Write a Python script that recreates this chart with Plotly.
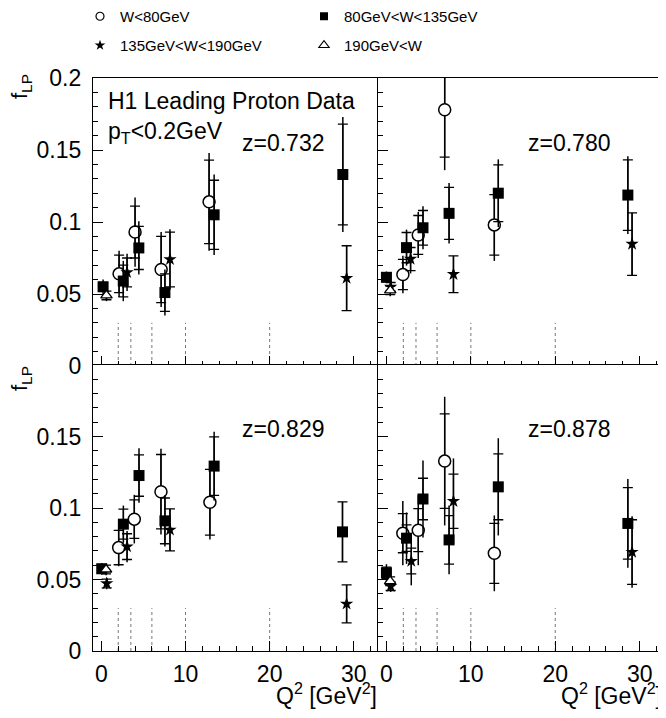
import plotly.graph_objects as go

# ---------------- data ----------------
z_labels = ["z=0.732", "z=0.780", "z=0.829", "z=0.878"]
series_names = ["W<80GeV", "80GeV<W<135GeV", "135GeV<W<190GeV", "190GeV<W"]
bin_edges = [2, 3.5, 6, 10, 20]
edge_height = 0.03

# z = 0.732
q2_w1_z1 = [2.1, 4.0, 7.1, 12.8]
f_w1_z1 = [0.064, 0.093, 0.067, 0.114]
st_w1_z1 = [0.013, 0.018, 0.023, 0.029]
to_w1_z1 = [0.016, 0.024, 0.026, 0.034]
q2_w2_z1 = [0.2, 2.6, 4.45, 7.55, 13.4, 28.7]
f_w2_z1 = [0.055, 0.059, 0.082, 0.051, 0.105, 0.133]
st_w2_z1 = [0.003, 0.011, 0.015, 0.013, 0.024, 0.035]
to_w2_z1 = [0.005, 0.014, 0.0185, 0.016, 0.028, 0.040]
q2_w3_z1 = [3.05, 8.15, 29.15]
f_w3_z1 = [0.065, 0.074, 0.061]
st_w3_z1 = [0.010, 0.019, 0.0225]
to_w3_z1 = [0.013, 0.021, 0.0225]
q2_w4_z1 = [0.6]
f_w4_z1 = [0.049]
st_w4_z1 = [0.003]
to_w4_z1 = [0.004]

# z = 0.780
q2_w1_z2 = [1.95, 3.77, 6.9, 12.78]
f_w1_z2 = [0.0636, 0.091, 0.178, 0.098]
st_w1_z2 = [0.0105, 0.0135, 0.033, 0.021]
to_w1_z2 = [0.013, 0.016, 0.042, 0.025]
q2_w2_z2 = [0.0, 2.38, 4.33, 7.42, 13.25, 28.6]
f_w2_z2 = [0.0616, 0.0822, 0.096, 0.106, 0.12, 0.1187]
st_w2_z2 = [0.003, 0.0105, 0.012, 0.018, 0.0197, 0.0245]
to_w2_z2 = [0.004, 0.0125, 0.015, 0.021, 0.0235, 0.027]
q2_w3_z2 = [0.5, 2.86, 7.94, 29.1]
f_w3_z2 = [0.055, 0.0743, 0.0637, 0.0847]
st_w3_z2 = [0.003, 0.008, 0.0128, 0.0217]
to_w3_z2 = [0.004, 0.010, 0.0128, 0.0217]
q2_w4_z2 = [0.45]
f_w4_z2 = [0.0525]
st_w4_z2 = [0.003]
to_w4_z2 = [0.004]

# z = 0.829
q2_w1_z3 = [2.05, 3.91, 7.08, 12.9]
f_w1_z3 = [0.0723, 0.0922, 0.1114, 0.104]
st_w1_z3 = [0.012, 0.0135, 0.026, 0.023]
to_w1_z3 = [0.013, 0.017, 0.030, 0.026]
q2_w2_z3 = [0.04, 2.61, 4.47, 7.55, 13.4, 28.66]
f_w2_z3 = [0.0575, 0.0887, 0.1227, 0.091, 0.1293, 0.0833]
st_w2_z3 = [0.003, 0.0105, 0.0145, 0.016, 0.0205, 0.021]
to_w2_z3 = [0.004, 0.013, 0.019, 0.018, 0.024, 0.021]
q2_w3_z3 = [0.63, 3.05, 8.15, 29.15]
f_w3_z3 = [0.0472, 0.073, 0.0847, 0.0329]
st_w3_z3 = [0.003, 0.009, 0.0147, 0.0133]
to_w3_z3 = [0.004, 0.011, 0.0147, 0.0133]
q2_w4_z3 = [0.55]
f_w4_z3 = [0.057]
st_w4_z3 = [0.003]
to_w4_z3 = [0.004]

# z = 0.878
q2_w1_z4 = [1.94, 3.77, 6.9, 12.78]
f_w1_z4 = [0.0824, 0.0845, 0.1328, 0.0683]
st_w1_z4 = [0.0137, 0.015, 0.033, 0.021]
to_w1_z4 = [0.0225, 0.0245, 0.045, 0.0265]
q2_w2_z4 = [0.0, 2.38, 4.33, 7.42, 13.25, 28.6]
f_w2_z4 = [0.0547, 0.0789, 0.1063, 0.0777, 0.1148, 0.0892]
st_w2_z4 = [0.004, 0.0093, 0.0145, 0.017, 0.023, 0.025]
to_w2_z4 = [0.006, 0.018, 0.027, 0.024, 0.034, 0.031]
q2_w3_z4 = [0.5, 2.94, 7.94, 29.1]
f_w3_z4 = [0.0453, 0.0629, 0.1047, 0.0692]
st_w3_z4 = [0.003, 0.009, 0.019, 0.0226]
to_w3_z4 = [0.004, 0.017, 0.030, 0.025]
q2_w4_z4 = [0.44]
f_w4_z4 = [0.0488]
st_w4_z4 = [0.003]
to_w4_z4 = [0.004]

panels = [
    [(q2_w1_z1, f_w1_z1, st_w1_z1, to_w1_z1), (q2_w2_z1, f_w2_z1, st_w2_z1, to_w2_z1),
     (q2_w3_z1, f_w3_z1, st_w3_z1, to_w3_z1), (q2_w4_z1, f_w4_z1, st_w4_z1, to_w4_z1)],
    [(q2_w1_z2, f_w1_z2, st_w1_z2, to_w1_z2), (q2_w2_z2, f_w2_z2, st_w2_z2, to_w2_z2),
     (q2_w3_z2, f_w3_z2, st_w3_z2, to_w3_z2), (q2_w4_z2, f_w4_z2, st_w4_z2, to_w4_z2)],
    [(q2_w1_z3, f_w1_z3, st_w1_z3, to_w1_z3), (q2_w2_z3, f_w2_z3, st_w2_z3, to_w2_z3),
     (q2_w3_z3, f_w3_z3, st_w3_z3, to_w3_z3), (q2_w4_z3, f_w4_z3, st_w4_z3, to_w4_z3)],
    [(q2_w1_z4, f_w1_z4, st_w1_z4, to_w1_z4), (q2_w2_z4, f_w2_z4, st_w2_z4, to_w2_z4),
     (q2_w3_z4, f_w3_z4, st_w3_z4, to_w3_z4), (q2_w4_z4, f_w4_z4, st_w4_z4, to_w4_z4)],
]

# ---------------- styling ----------------
FONT = "Liberation Sans, Arial, sans-serif"
OFF = 8                  # page body margin of the html page
W, H = 666 - OFF, 718 - 2 * OFF


def px(x):   # page x pixel -> paper fraction
    return (x - OFF) / W


def py(y):   # page y pixel -> paper fraction
    return 1 - (y - OFF) / H


marker_styles = [
    dict(symbol="circle", size=12, color="white", line=dict(color="black", width=1.5)),
    dict(symbol="square", size=11, color="black", line=dict(color="black", width=0)),
    dict(symbol="star", size=10, color="black", line=dict(color="black", width=0)),
    dict(symbol="triangle-up", size=10, color="white", line=dict(color="black", width=1.3)),
]
legend_marker_styles = [
    dict(symbol="circle", size=8, color="white", line=dict(color="black", width=1.2)),
    dict(symbol="square", size=8, color="black", line=dict(color="black", width=0)),
    dict(symbol="star", size=8, color="black", line=dict(color="black", width=0)),
    dict(symbol="triangle-up", size=9, color="white", line=dict(color="black", width=1.1)),
]

xdom = [[px(93), px(379)], [px(378), px(665)], [px(93), px(379)], [px(378), px(665)]]
ydom = [[py(366), py(78)], [py(366), py(78)], [py(651), py(365)], [py(651), py(365)]]

fig = go.Figure()

for p in range(4):
    xa = "x" if p == 0 else f"x{p + 1}"
    ya = "y" if p == 0 else f"y{p + 1}"
    ex, ey = [], []
    for e in bin_edges:
        ex += [e, e, None]
        ey += [0, edge_height, None]
    fig.add_trace(go.Scatter(x=ex, y=ey, mode="lines", xaxis=xa, yaxis=ya,
                             line=dict(color="#777777", width=1, dash="dot"),
                             showlegend=False, hoverinfo="skip"))
    for s, (q2, f, st, to) in enumerate(panels[p]):
        fig.add_trace(go.Scatter(x=q2, y=f, mode="markers", xaxis=xa, yaxis=ya,
                                 marker=dict(size=1, color="rgba(0,0,0,0)"),
                                 error_y=dict(type="data", array=to, visible=True,
                                              color="black", thickness=1.5, width=0),
                                 showlegend=False, hoverinfo="skip"))
        fig.add_trace(go.Scatter(x=q2, y=f, mode="markers", xaxis=xa, yaxis=ya,
                                 marker=marker_styles[s],
                                 error_y=dict(type="data", array=st, visible=True,
                                              color="black", thickness=1.3, width=5),
                                 showlegend=False, name=series_names[s]))

for s in range(4):
    fig.add_trace(go.Scatter(x=[None], y=[None], mode="markers", name=series_names[s],
                             marker=legend_marker_styles[s], showlegend=True,
                             legend="legend" if s in (0, 1) else "legend2"))

axis_common = dict(showline=True, linecolor="black", linewidth=1.2, mirror=True,
                   ticks="inside", tickcolor="black", tickwidth=1.2,
                   showgrid=False, zeroline=False, automargin=False,
                   tickfont=dict(family=FONT, size=23, color="black"))

layout = dict(template="none", width=W, height=H,
              margin=dict(l=0, r=0, t=0, b=0, autoexpand=False),
              paper_bgcolor="white", plot_bgcolor="white",
              font=dict(family=FONT, color="black"))

for p in range(4):
    xn = "xaxis" if p == 0 else f"xaxis{p + 1}"
    yn = "yaxis" if p == 0 else f"yaxis{p + 1}"
    ya = "y" if p == 0 else f"y{p + 1}"
    xa = "x" if p == 0 else f"x{p + 1}"
    layout[xn] = dict(axis_common, domain=xdom[p], range=[-1, 33], anchor=ya,
                      tickmode="linear", tick0=0, dtick=10, ticklen=10,
                      minor=dict(tick0=0, dtick=2, ticklen=5, ticks="inside",
                                 tickcolor="black", tickwidth=1.2, showgrid=False),
                      showticklabels=(p >= 2), ticklabelstandoff=2)
    if p == 0:
        ytick = dict(tickmode="array", tickvals=[0, 0.05, 0.1, 0.15, 0.2],
                     ticktext=["0", "0.05", "0.1", "0.15", "0.2"])
    elif p == 2:
        ytick = dict(tickmode="array", tickvals=[0, 0.05, 0.1, 0.15, 0.2],
                     ticktext=["0", "0.05", "0.1", "0.15", ""])
    else:
        ytick = dict(tickmode="array", tickvals=[0, 0.05, 0.1, 0.15, 0.2])
    layout[yn] = dict(axis_common, domain=ydom[p], range=[0, 0.2], anchor=xa,
                      ticklen=10,
                      minor=dict(tick0=0, dtick=0.01, ticklen=5, ticks="inside",
                                 tickcolor="black", tickwidth=1.2, showgrid=False),
                      showticklabels=(p in (0, 2)), ticklabelstandoff=6, **ytick)

legend_common = dict(orientation="h", xanchor="left", yanchor="top",
                     bgcolor="rgba(0,0,0,0)", borderwidth=0,
                     font=dict(family=FONT, size=15, color="black"),
                     entrywidth=179, entrywidthmode="pixels")
layout["legend"] = dict(legend_common, x=72 / W, y=1 + 8 / H)
layout["legend2"] = dict(legend_common, x=72 / W, y=1 - 21 / H)

ann = []
for p in range(4):
    xa = "x" if p == 0 else f"x{p + 1}"
    ya = "y" if p == 0 else f"y{p + 1}"
    ann.append(dict(text=z_labels[p], xref=f"{xa} domain", yref=f"{ya} domain",
                    x=0.667, y=0.775, xanchor="center", yanchor="middle",
                    showarrow=False, font=dict(family=FONT, size=23, color="black")))
ann.append(dict(text="H1 Leading Proton Data", xref="x domain", yref="y domain",
                x=0.045, y=0.92, xanchor="left", yanchor="middle", showarrow=False,
                font=dict(family=FONT, size=23, color="black")))
ann.append(dict(text="p<sub>T</sub>&lt;0.2GeV", xref="x domain", yref="y domain",
                x=0.045, y=0.81, xanchor="left", yanchor="middle", showarrow=False,
                font=dict(family=FONT, size=23, color="black")))
for yy in (py(87), py(379)):
    ann.append(dict(text="f<sub>LP</sub>", xref="paper", yref="paper", x=px(21), y=yy,
                    xanchor="center", yanchor="middle", textangle=-90, showarrow=False,
                    font=dict(family=FONT, size=22, color="black")))
for xx in (px(379), px(664)):
    ann.append(dict(text="Q<sup>2</sup> [GeV<sup>2</sup>]", xref="paper", yref="paper",
                    x=xx, y=py(694), xanchor="right", yanchor="middle",
                    showarrow=False, font=dict(family=FONT, size=23, color="black")))
layout["annotations"] = ann

fig.update_layout(**layout)
fig.write_html("out.html")
